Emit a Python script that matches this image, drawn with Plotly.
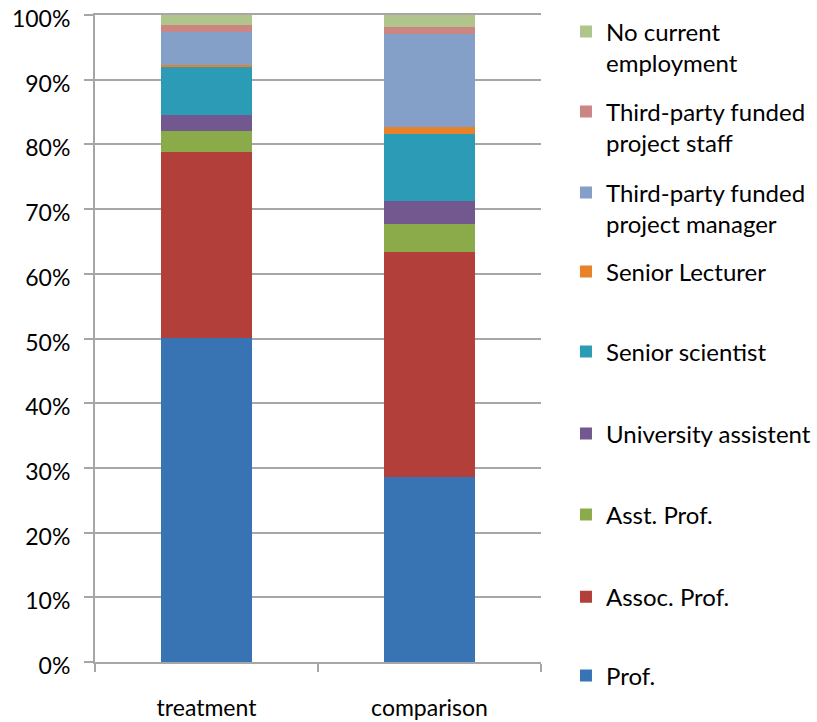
import plotly.graph_objects as go

categories = ["treatment", "comparison"]

series_names = [
    "Prof.",
    "Assoc. Prof.",
    "Asst. Prof.",
    "University assistent",
    "Senior scientist",
    "Senior Lecturer",
    "Third-party funded<br>project manager",
    "Third-party funded<br>project staff",
    "No current<br>employment",
]

prof = [50.1, 28.6]
assoc_prof = [28.7, 34.8]
asst_prof = [3.3, 4.3]
univ_assistent = [2.4, 3.55]
senior_scientist = [7.5, 10.4]
senior_lecturer = [0.3, 1.05]
tp_manager = [5.1, 14.4]
tp_staff = [1.05, 1.0]
no_employment = [1.55, 1.9]

series_values = [prof, assoc_prof, asst_prof, univ_assistent, senior_scientist,
                 senior_lecturer, tp_manager, tp_staff, no_employment]

colors = ["#3874b3", "#b23f39", "#8bab4a", "#73588f", "#2c9cb6",
          "#e7822a", "#849fc8", "#cb8684", "#b0c58b"]

tick_vals = [0, 10, 20, 30, 40, 50, 60, 70, 80, 90, 100]
tick_text = [f"{v}%" for v in tick_vals]

FONT = "Lato"
GRID = "#a6a6a6"

# legend layout (paper y of each entry's top), indexed like the series
legend_y = [0.0131, 0.1352, 0.2620, 0.3872, 0.5139, 0.6376, 0.7597, 0.8849, 1.0085]

fig = go.Figure()
for i, (name, vals, col) in enumerate(zip(series_names, series_values, colors)):
    lname = "legend" if i == 0 else f"legend{i+1}"
    fig.add_trace(go.Bar(
        x=categories, y=vals, name=name, marker=dict(color=col, line=dict(width=0)),
        legend=lname, hoverinfo="x+y+name",
    ))

layout_legends = {}
for i in range(len(series_names)):
    key = "legend" if i == 0 else f"legend{i+1}"
    layout_legends[key] = dict(
        x=1.056, y=legend_y[i], xanchor="left", yanchor="top",
        bgcolor="rgba(0,0,0,0)", valign="top",
        font=dict(family=FONT, size=24, color="#000000"),
        itemclick=False, itemdoubleclick=False,
    )

fig.update_layout(
    width=817, height=722,
    margin=dict(l=95, r=276, t=15, b=60, autoexpand=False),
    paper_bgcolor="white", plot_bgcolor="white",
    barmode="stack", bargap=0.595,
    showlegend=True,
    font=dict(family=FONT, size=23, color="#000000"),
    **layout_legends,
)

fig.update_yaxes(
    range=[0, 100], tickvals=tick_vals, ticktext=tick_text,
    showgrid=True, gridcolor=GRID, gridwidth=2,
    showline=True, linecolor=GRID, linewidth=2,
    ticks="outside", ticklen=9, tickwidth=2, tickcolor=GRID,
    ticklabelstandoff=9, ticklabelshift=4, zeroline=False, automargin=False,
    ticklabeloverflow="allow",
    tickfont=dict(family=FONT, size=23, color="#000000"),
)
fig.update_xaxes(
    type="category", tickson="boundaries",
    showline=True, linecolor=GRID, linewidth=2, mirror=True,
    ticks="outside", ticklen=8, tickwidth=2, tickcolor=GRID,
    ticklabelstandoff=24, automargin=False,
    ticklabeloverflow="allow",
    tickfont=dict(family=FONT, size=23, color="#000000"),
)

fig.write_html(
    "out.html",
    config={"displayModeBar": False},
    post_script="document.body.style.margin='0';document.body.style.padding='0';",
)
